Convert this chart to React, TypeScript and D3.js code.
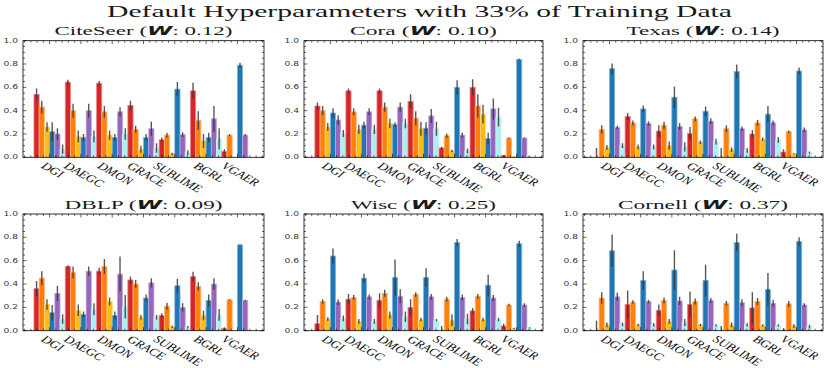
import React from "react";
import * as d3 from "d3";

const methods = ["DGI", "DAEGC", "DMON", "GRACE", "SUBLIME", "BGRL", "VGAER"];
const seriesColors = ["#d62728", "#ff7f0e", "#ffbb14", "#1f77b4", "#9467bd", "#aeeeee"];
const datasetNames = ["CiteSeer", "Cora", "Texas", "DBLP", "Wisc", "Cornell"];
const datasetW = ["0.12", "0.10", "0.14", "0.09", "0.25", "0.37"];
const yTicks = [0, 0.2, 0.4, 0.6, 0.8, 1.0];

const citeseerMean = [
  [0.54, 0.43, 0.26, 0.22, 0.2, 0.07],
  [0.645, 0.4, 0.18, 0.17, 0.4, 0.18],
  [0.635, 0.39, 0.19, 0.17, 0.39, 0.2],
  [0.445, 0.24, 0.07, 0.17, 0.245, 0.08],
  [0.15, 0.19, 0.03, 0.585, 0.195, 0.04],
  [0.57, 0.315, 0.14, 0.17, 0.33, 0.16],
  [0.05, 0.19, 0.0, 0.79, 0.19, 0.0],
];
const citeseerErr = [
  [0.05, 0.055, 0.04, 0.08, 0.05, 0.04],
  [0.02, 0.06, 0.05, 0.03, 0.06, 0.05],
  [0.02, 0.05, 0.04, 0.03, 0.04, 0.05],
  [0.04, 0.03, 0.03, 0.03, 0.06, 0.04],
  [0.02, 0.02, 0.01, 0.06, 0.02, 0.02],
  [0.07, 0.08, 0.06, 0.04, 0.11, 0.09],
  [0.02, 0.01, 0.0, 0.02, 0.01, 0.0],
];
const coraMean = [
  [0.44, 0.4, 0.26, 0.38, 0.32, 0.205],
  [0.57, 0.39, 0.24, 0.275, 0.39, 0.24],
  [0.57, 0.43, 0.29, 0.28, 0.43, 0.29],
  [0.48, 0.335, 0.245, 0.25, 0.355, 0.245],
  [0.08, 0.185, 0.055, 0.6, 0.19, 0.055],
  [0.6, 0.44, 0.37, 0.16, 0.415, 0.345],
  [0.015, 0.165, 0.008, 0.84, 0.165, 0.008],
];
const coraErr = [
  [0.03, 0.04, 0.035, 0.04, 0.04, 0.03],
  [0.02, 0.03, 0.04, 0.03, 0.03, 0.04],
  [0.02, 0.04, 0.04, 0.02, 0.04, 0.04],
  [0.06, 0.06, 0.06, 0.05, 0.06, 0.06],
  [0.01, 0.02, 0.01, 0.06, 0.02, 0.02],
  [0.07, 0.1, 0.08, 0.05, 0.09, 0.08],
  [0.005, 0.005, 0.002, 0.005, 0.005, 0.002],
];
const texasMean = [
  [0.0, 0.24, 0.085, 0.76, 0.255, 0.1],
  [0.35, 0.295, 0.09, 0.415, 0.29, 0.09],
  [0.225, 0.275, 0.1, 0.515, 0.265, 0.09],
  [0.205, 0.33, 0.13, 0.395, 0.31, 0.135],
  [0.0, 0.245, 0.065, 0.735, 0.245, 0.06],
  [0.2, 0.295, 0.155, 0.37, 0.295, 0.15],
  [0.045, 0.22, 0.03, 0.74, 0.235, 0.04],
];
const texasErr = [
  [0.08, 0.035, 0.02, 0.045, 0.015, 0.02],
  [0.03, 0.02, 0.02, 0.03, 0.02, 0.02],
  [0.05, 0.03, 0.035, 0.09, 0.03, 0.04],
  [0.055, 0.02, 0.015, 0.04, 0.025, 0.025],
  [0.08, 0.03, 0.02, 0.06, 0.02, 0.02],
  [0.035, 0.025, 0.015, 0.07, 0.02, 0.025],
  [0.025, 0.01, 0.005, 0.03, 0.02, 0.01],
];
const dblpMean = [
  [0.36, 0.45, 0.225, 0.155, 0.32, 0.1],
  [0.55, 0.5, 0.175, 0.14, 0.51, 0.185],
  [0.51, 0.55, 0.25, 0.13, 0.485, 0.205],
  [0.435, 0.4, 0.115, 0.28, 0.41, 0.115],
  [0.13, 0.21, 0.035, 0.385, 0.2, 0.03],
  [0.465, 0.38, 0.13, 0.26, 0.4, 0.135],
  [0.02, 0.265, 0.0, 0.735, 0.26, 0.0],
];
const dblpErr = [
  [0.065, 0.06, 0.045, 0.065, 0.065, 0.04],
  [0.01, 0.05, 0.05, 0.025, 0.04, 0.05],
  [0.03, 0.065, 0.035, 0.035, 0.15, 0.1],
  [0.03, 0.035, 0.02, 0.03, 0.04, 0.02],
  [0.02, 0.03, 0.01, 0.06, 0.035, 0.01],
  [0.04, 0.035, 0.04, 0.05, 0.05, 0.05],
  [0.01, 0.005, 0.0, 0.005, 0.005, 0.0],
];
const wiscMean = [
  [0.06, 0.25, 0.1, 0.64, 0.245, 0.105],
  [0.27, 0.285, 0.08, 0.45, 0.29, 0.08],
  [0.26, 0.32, 0.135, 0.455, 0.295, 0.12],
  [0.2, 0.31, 0.095, 0.455, 0.29, 0.09],
  [0.0, 0.27, 0.09, 0.755, 0.285, 0.1],
  [0.17, 0.295, 0.095, 0.39, 0.28, 0.095],
  [0.04, 0.22, 0.02, 0.745, 0.22, 0.025],
];
const wiscErr = [
  [0.075, 0.02, 0.015, 0.065, 0.025, 0.025],
  [0.045, 0.02, 0.02, 0.04, 0.02, 0.02],
  [0.06, 0.03, 0.03, 0.155, 0.06, 0.045],
  [0.07, 0.02, 0.015, 0.08, 0.025, 0.01],
  [0.04, 0.02, 0.05, 0.03, 0.025, 0.045],
  [0.025, 0.02, 0.015, 0.09, 0.025, 0.015],
  [0.02, 0.01, 0.005, 0.025, 0.015, 0.005],
];
const cornellMean = [
  [0.0, 0.28, 0.05, 0.685, 0.29, 0.055],
  [0.225, 0.245, 0.05, 0.43, 0.25, 0.05],
  [0.175, 0.26, 0.08, 0.52, 0.255, 0.07],
  [0.225, 0.25, 0.05, 0.43, 0.26, 0.045],
  [0.0, 0.235, 0.05, 0.755, 0.24, 0.05],
  [0.195, 0.25, 0.045, 0.355, 0.235, 0.045],
  [0.0, 0.23, 0.04, 0.765, 0.22, 0.035],
];
const cornellErr = [
  [0.085, 0.05, 0.02, 0.14, 0.035, 0.015],
  [0.12, 0.015, 0.01, 0.08, 0.015, 0.015],
  [0.05, 0.025, 0.02, 0.17, 0.035, 0.03],
  [0.11, 0.025, 0.01, 0.135, 0.02, 0.01],
  [0.04, 0.02, 0.02, 0.075, 0.03, 0.015],
  [0.135, 0.03, 0.01, 0.14, 0.03, 0.01],
  [0.02, 0.025, 0.015, 0.035, 0.015, 0.015],
];

const allMeans = [citeseerMean, coraMean, texasMean, dblpMean, wiscMean, cornellMean];
const allErrs = [citeseerErr, coraErr, texasErr, dblpErr, wiscErr, cornellErr];

// layout (styles/positions)
const colX = [[23, 264], [304, 543], [583, 823]];
const rowY = [[40.7, 157.3], [214, 330.7]];
const titleWidths = [178, 147, 153, 158, 145, 170];
const xLabelSize = 11;
const xLabelFont = `italic ${xLabelSize}px 'Liberation Serif'`;
const stretch = 1.2;
const rotDeg = 34;

let ctx: CanvasRenderingContext2D | null = null;
function measure(t: string) {
  if (!ctx) ctx = document.createElement("canvas").getContext("2d");
  if (!ctx) return t.length * 6.5;
  ctx.font = xLabelFont;
  return ctx.measureText(t).width;
}

function lighten(c: string, k: number) {
  return d3.interpolateRgb(c, "#ffffff")(k);
}

function Panel({ idx }: { idx: number }) {
  const [x0, x1] = colX[idx % 3];
  const [y0, y1] = rowY[Math.floor(idx / 3)];
  const x = d3.scaleLinear().domain([-0.85, 6.85]).range([x0, x1]);
  const y = d3.scaleLinear().domain([0, 1]).range([y1, y0]);
  const means = allMeans[idx];
  const errs = allErrs[idx];
  const nS = seriesColors.length;
  const bw = 1 / nS;
  const clipId = `clip${idx}`;
  const yMinor = d3.range(0, 1.0001, 0.05);
  const xMinor = d3.range(-0.8, 6.85, 0.2);
  const bars: any[] = [];
  const errLines: any[] = [];
  means.forEach((row, g) => {
    row.forEach((v, s) => {
      const bx = x(g - 0.5 + s * bw);
      const bwPx = x(bw) - x(0);
      bars.push(
        <rect key={`b${g}-${s}`} x={bx} y={y(v)} width={bwPx} height={y(0) - y(v)}
          fill={seriesColors[s]} stroke={lighten(seriesColors[s], 0.45)} strokeWidth={0.8} />
      );
      const e = errs[g][s];
      if (e > 0) {
        const cx = bx + bwPx / 2;
        errLines.push(
          <line key={`e${g}-${s}`} x1={cx} x2={cx} y1={y(v - e)} y2={y(v + e)}
            stroke="#3a3a3a" strokeOpacity={0.85} strokeWidth={1.4} />
        );
      }
    });
  });
  const title = datasetNames[idx];
  const tY = idx < 3 ? 35 : 208.5;
  const rad = (rotDeg * Math.PI) / 180;
  return (
    <g>
      <defs>
        <clipPath id={clipId}>
          <rect x={x0} y={y0} width={x1 - x0} height={y1 - y0} />
        </clipPath>
      </defs>
      <g clipPath={`url(#${clipId})`}>
        {bars}
        {errLines}
      </g>
      {yMinor.map((t, i) => {
        const major = Math.abs(t * 5 - Math.round(t * 5)) < 1e-6;
        const len = major ? 3.5 : 2;
        return (
          <g key={`yt${i}`} stroke="#000" strokeWidth={0.6}>
            <line x1={x0} x2={x0 + len} y1={y(t)} y2={y(t)} />
            <line x1={x1} x2={x1 - len} y1={y(t)} y2={y(t)} />
          </g>
        );
      })}
      {xMinor.map((t, i) => {
        const major = Math.abs(t - Math.round(t)) < 1e-6;
        const len = major ? 3.5 : 2;
        return (
          <g key={`xt${i}`} stroke="#000" strokeWidth={0.6}>
            <line x1={x(t)} x2={x(t)} y1={y0} y2={y0 + len} />
            <line x1={x(t)} x2={x(t)} y1={y1} y2={y1 - len} />
          </g>
        );
      })}
      <rect x={x0} y={y0} width={x1 - x0} height={y1 - y0} fill="none" stroke="#000" strokeWidth={0.8} />
      {yTicks.map((t) => (
        <text key={`yl${t}`} transform={`translate(${x0 - 5},${y(t)}) scale(1.35,1)`} textAnchor="end"
          dominantBaseline="central" fontFamily="DejaVu Sans" fontSize={6.8} fill="#333">
          {t.toFixed(1)}
        </text>
      ))}
      {methods.map((m, g) => {
        const L = measure(m);
        const h = 7.5;
        const top = y1 + 4;
        const bboxH = L * Math.sin(rad) + h * Math.cos(rad);
        const cy = top + bboxH / 2;
        const cx = x(g) + 3;
        return (
          <text key={`xl${m}`} transform={`translate(${cx},${cy}) scale(${stretch},1) rotate(${rotDeg})`}
            textAnchor="middle" dominantBaseline="central" fontFamily="Liberation Serif"
            fontStyle="italic" fontSize={xLabelSize} fill="#111">
            {m}
          </text>
        );
      })}
      <text x={(x0 + x1) / 2} y={tY} textAnchor="middle" fontFamily="Liberation Serif" fontSize={13}
        textLength={titleWidths[idx]} lengthAdjust="spacingAndGlyphs" fill="#1a1a1a">
        {title} (
        <tspan fontFamily="DejaVu Sans" fontWeight="bold" fontStyle="italic">W</tspan>
        {`:  ${datasetW[idx]})`}
      </text>
    </g>
  );
}

export default function App() {
  return (
    <svg width={830} height={368} viewBox="0 0 830 368"
      style={{ position: "absolute", left: 0, top: 0, background: "#fff" }}>
      <rect width={830} height={368} fill="#fff" />
      <text x={419.5} y={16.5} textAnchor="middle" fontFamily="Liberation Serif" fontSize={16.5}
        textLength={625} lengthAdjust="spacingAndGlyphs" fill="#1a1a1a">
        Default Hyperparameters with 33% of Training Data
      </text>
      {datasetNames.map((_, i) => (
        <Panel key={i} idx={i} />
      ))}
    </svg>
  );
}
